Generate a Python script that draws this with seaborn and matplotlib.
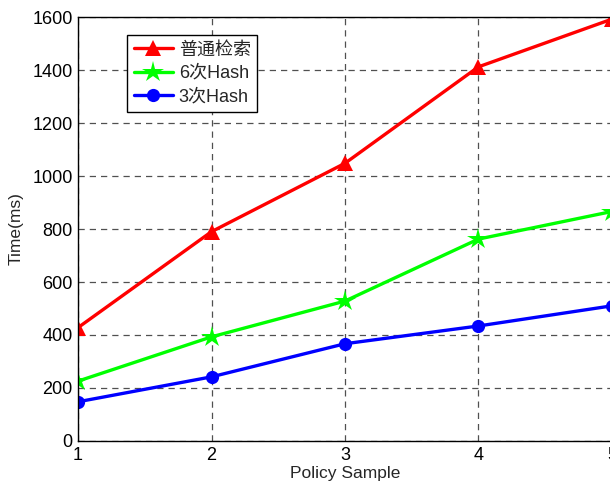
import numpy as np
import pandas as pd
import seaborn as sns
from matplotlib import pyplot as plt

# data
samples = [1, 2, 3, 4, 5]
plain_search = [428, 790, 1048, 1412, 1592]
hash_6 = [226, 393, 528, 762, 866]
hash_3 = [148, 242, 367, 434, 510]
series_names = ['普通检索', '6次Hash', '3次Hash']

df = pd.DataFrame({
    'sample': samples * 3,
    'time': plain_search + hash_6 + hash_3,
    'method': [series_names[0]] * 5 + [series_names[1]] * 5 + [series_names[2]] * 5,
})

sns.set_style('white')
plt.rcParams['font.family'] = ['Liberation Sans', 'Noto Sans CJK SC', 'DejaVu Sans']

fig = plt.figure(figsize=(6.10, 4.87), dpi=100)
ax = fig.add_axes([0.128, 0.0945, 0.875, 0.8705])

palette = {series_names[0]: '#ff0000', series_names[1]: '#00ff00', series_names[2]: '#0000ff'}
markers = {series_names[0]: '^', series_names[1]: '*', series_names[2]: 'o'}

sns.lineplot(data=df, x='sample', y='time', hue='method', style='method',
             palette=palette, markers=markers, dashes=False, linewidth=2.4,
             markersize=11, markeredgewidth=0, ax=ax)
for line in ax.lines:
    if line.get_marker() == '*':
        line.set_markersize(16)
    elif line.get_marker() == 'o':
        line.set_markersize(9.5)

ax.set_xlim(1, 5)
ax.set_ylim(0, 1600)
ax.set_xticks(samples)
ax.set_yticks(np.arange(0, 1601, 200))
ax.tick_params(direction='in', length=5, width=0.8, labelsize=13, colors='black', pad=4)
ax.grid(True, color='#505050', linestyle=(0, (5, 4)), linewidth=0.9)
for sp in ax.spines.values():
    sp.set_color('black')
    sp.set_linewidth(1.0)

ax.set_xlabel('Policy Sample', fontsize=12.5, labelpad=2)
ax.set_ylabel('Time(ms)', fontsize=12.5, labelpad=6)

leg = ax.legend(loc='upper left', bbox_to_anchor=(0.092, 0.957), fontsize=13,
                frameon=True, fancybox=False, framealpha=1, edgecolor='black',
                handlelength=2.2, handletextpad=0.3, borderpad=0.35,
                labelspacing=0.35, borderaxespad=0)
leg.get_frame().set_linewidth(1.0)

fig.savefig('out.png', dpi=100)
